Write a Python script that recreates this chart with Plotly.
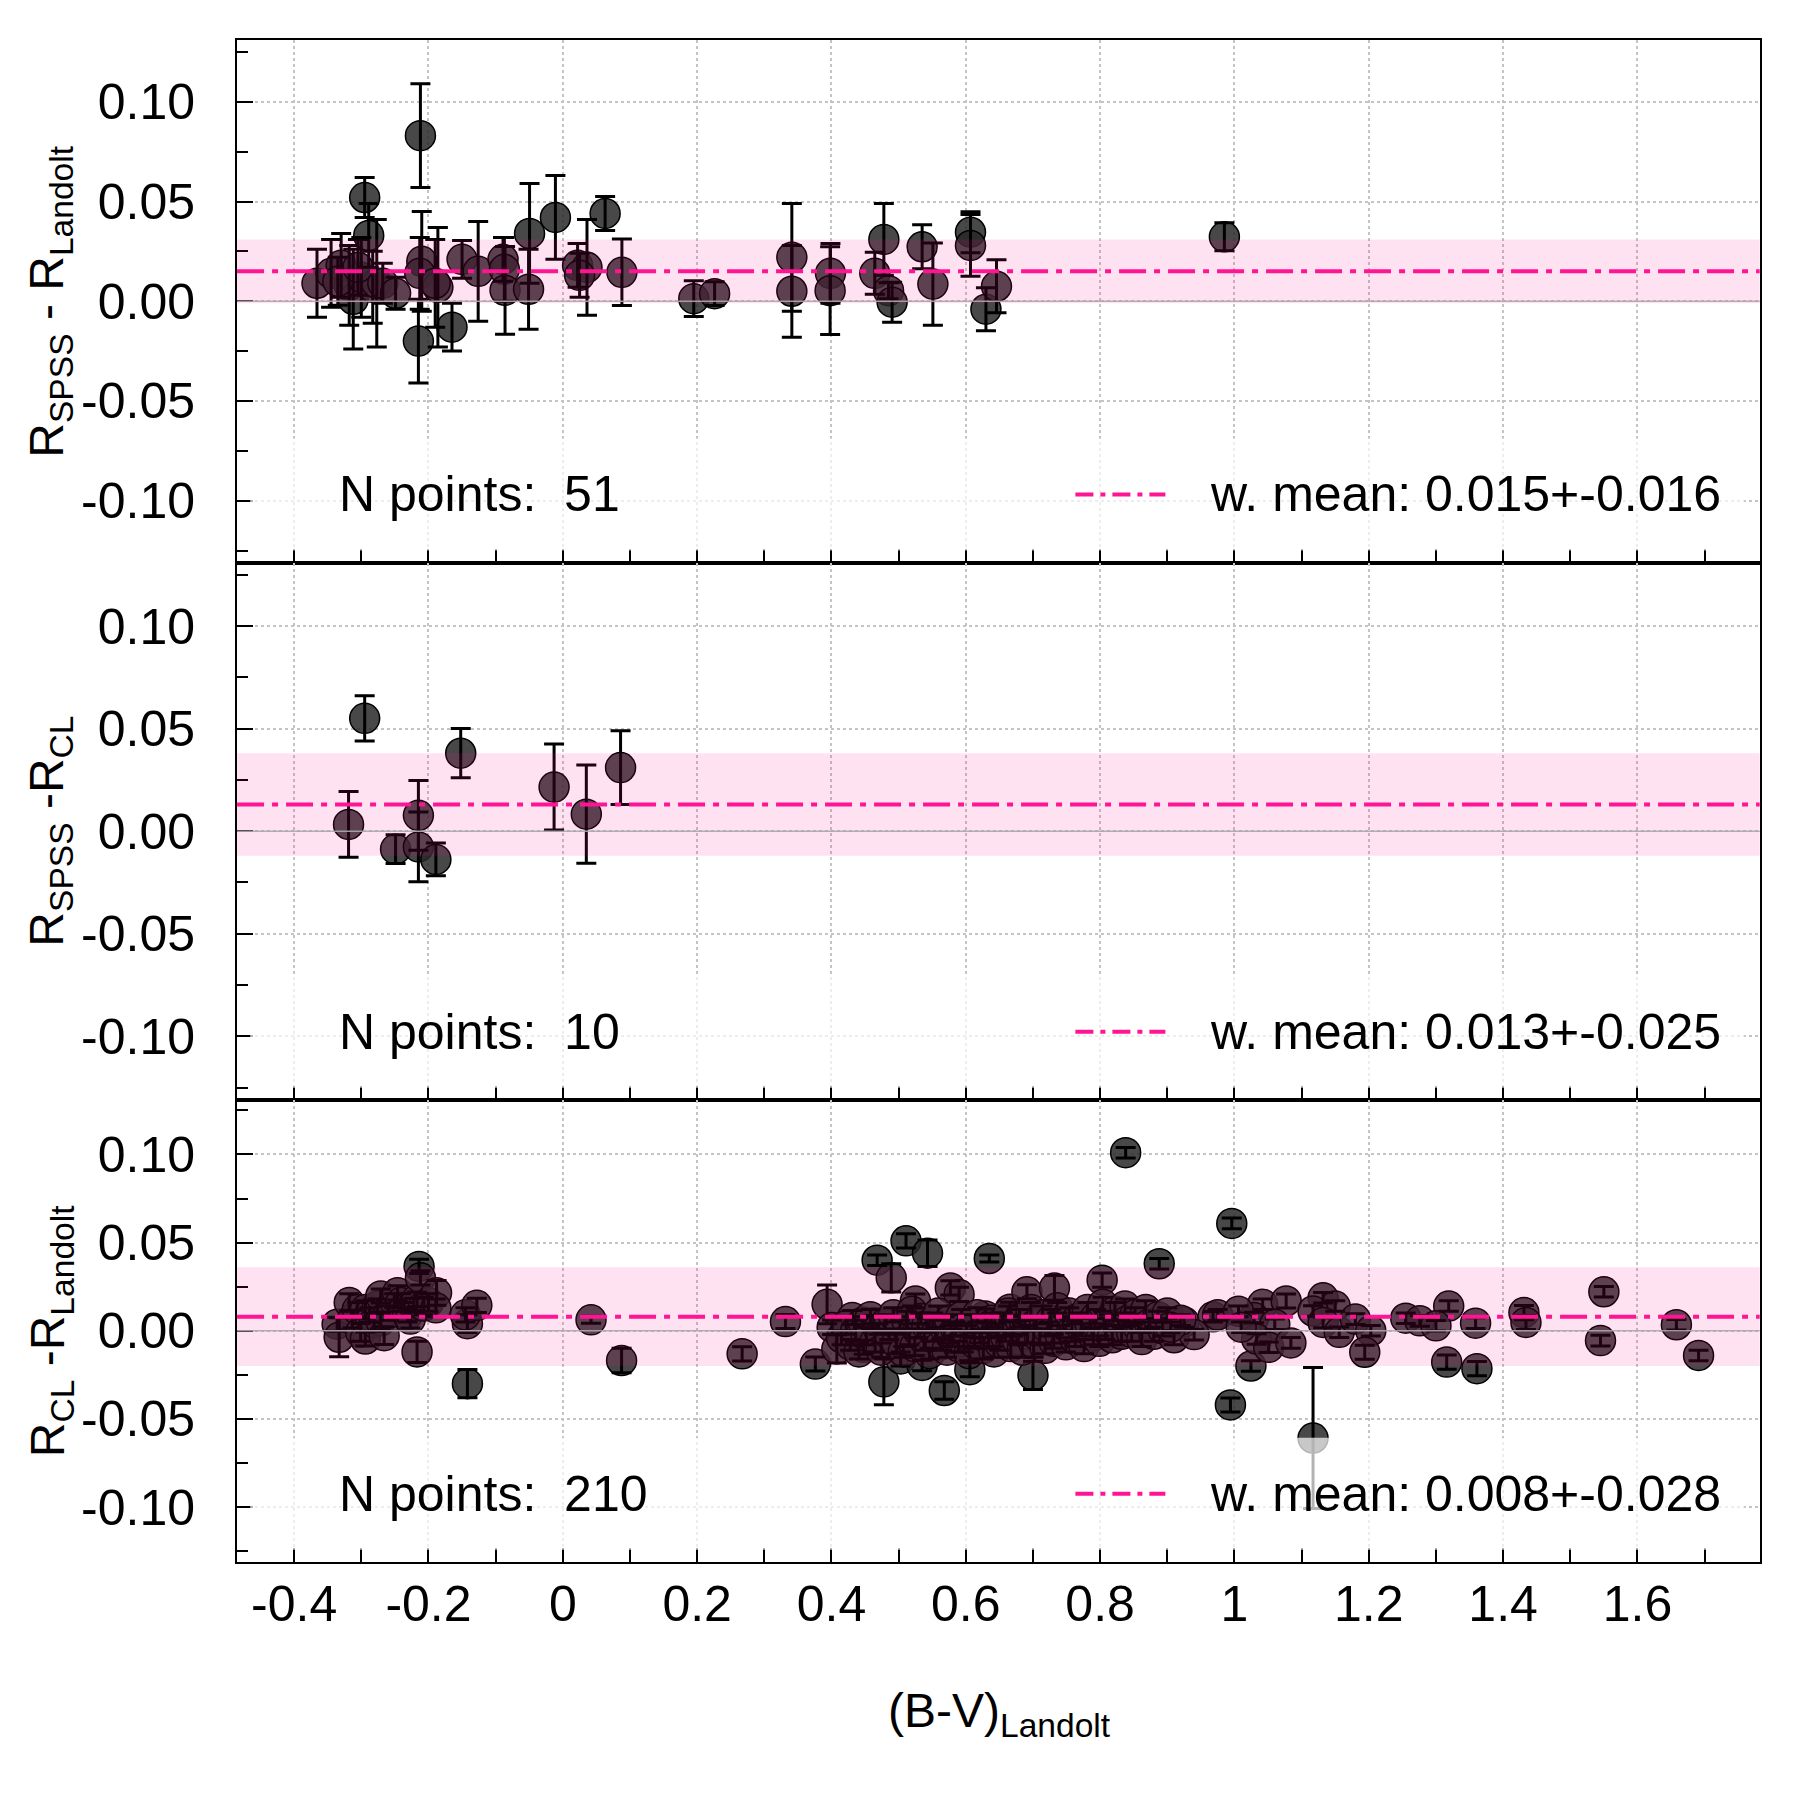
import plotly.graph_objects as go

# ---- data ----
# top panel: R_SPSS - R_Landolt
top_x = [-0.366, -0.345, -0.330, -0.318, -0.312, -0.295, -0.289, -0.300, -0.283, -0.277,
         -0.268, -0.249, -0.212, -0.210, -0.213, -0.215, -0.186, -0.190, -0.165, -0.150,
         -0.126, -0.089, -0.087, -0.086, -0.051, -0.0495, -0.011, 0.022, 0.036, 0.025,
         0.063, 0.088, 0.195, 0.226, 0.341, 0.341, 0.3985, 0.398, 0.4645, 0.478,
         0.485, 0.4903, 0.535, 0.551, 0.607, 0.607, 0.630, 0.6457, 0.985, -0.335,
         -0.305]
top_y = [0.009, 0.014, 0.018, 0.008, 0.001, 0.052, 0.033, 0.012, 0.007, 0.009,
         0.009, 0.004, 0.083, 0.020, 0.014, -0.020, 0.007, 0.009, -0.013, 0.021,
         0.015, 0.021, 0.016, 0.0055, 0.006, 0.034, 0.042, 0.018, 0.017, 0.013,
         0.044, 0.0145, 0.0013, 0.0038, 0.022, 0.005, 0.014, 0.0053, 0.014, 0.031,
         0.0053, -0.0005, 0.0273, 0.0086, 0.0346, 0.028, -0.004, 0.0075, 0.0323, 0.010,
         0.017]
top_err = [0.017, 0.017, 0.016, 0.020, 0.025, 0.010, 0.016, 0.020, 0.018, 0.032,
           0.010, 0.008, 0.026, 0.025, 0.018, 0.021, 0.030, 0.022, 0.012, 0.0095,
           0.025, 0.011, 0.016, 0.022, 0.020, 0.025, 0.021, 0.011, 0.024, 0.011,
           0.0085, 0.0167, 0.009, 0.006, 0.027, 0.023, 0.015, 0.022, 0.0105, 0.018,
           0.004, 0.010, 0.011, 0.0206, 0.0103, 0.0155, 0.0108, 0.0133, 0.007, 0.012,
           0.014]

# middle panel: R_SPSS - R_CL
mid_x = [-0.319, -0.295, -0.249, -0.215, -0.215, -0.189, -0.152, -0.013, 0.035, 0.086]
mid_y = [0.0033, 0.055, -0.0088, 0.0077, -0.0077, -0.0138, 0.038, 0.0215, 0.0083, 0.031]
mid_err = [0.016, 0.011, 0.007, 0.017, 0.017, 0.008, 0.012, 0.021, 0.024, 0.018]

# bottom panel: R_CL - R_Landolt
bot_x = [
    -0.336, -0.333, -0.318, -0.313, -0.306, -0.301, -0.294, -0.294, -0.288, -0.281,
    -0.276, -0.271, -0.271, -0.266, -0.259, -0.251, -0.246, -0.241, -0.236, -0.231,
    -0.227, -0.222, -0.217, -0.214, -0.212, -0.207, -0.217, -0.200, -0.188, -0.189,
    -0.142, -0.145, -0.128, -0.142,
    0.042, 0.0875, 0.267, 0.3315,
    0.376, 0.3935, 0.401, 0.408, 0.431, 0.448, 0.463, 0.468, 0.489, 0.478,
    0.511, 0.543, 0.525, 0.503, 0.535, 0.568, 0.577, 0.590, 0.606, 0.635,
    0.629, 0.666, 0.691, 0.700, 0.732, 0.803, 0.888, 0.838,
    0.415, 0.422, 0.428, 0.436, 0.441, 0.447, 0.452, 0.458, 0.465, 0.470,
    0.474, 0.480, 0.486, 0.492, 0.497, 0.502, 0.507, 0.512, 0.516, 0.520,
    0.524, 0.529, 0.533, 0.538, 0.542, 0.546, 0.551, 0.555, 0.559, 0.563,
    0.568, 0.572, 0.576, 0.580, 0.585, 0.589, 0.593, 0.597, 0.601, 0.605,
    0.609, 0.613, 0.617, 0.621, 0.626, 0.630, 0.634, 0.638, 0.642, 0.646,
    0.650, 0.655, 0.659, 0.663, 0.667, 0.671, 0.676, 0.680, 0.684, 0.688,
    0.692, 0.697, 0.701, 0.705, 0.710, 0.714, 0.718, 0.723, 0.727, 0.731,
    0.736, 0.740, 0.745, 0.749, 0.754, 0.758, 0.763, 0.767, 0.772, 0.776,
    0.781, 0.785, 0.790, 0.794, 0.799, 0.804, 0.808, 0.813, 0.818, 0.822,
    0.827, 0.832, 0.837, 0.842, 0.847, 0.852, 0.857, 0.862, 0.868, 0.874,
    0.880, 0.886, 0.893, 0.900, 0.910, 0.925,
    0.996, 0.994, 1.0245, 0.968, 1.042, 1.077, 1.029, 1.060, 1.033, 1.051,
    1.084, 1.132, 1.150, 1.117, 1.132, 1.156, 1.180, 1.203, 1.194, 1.255,
    1.276, 1.319, 1.300, 1.359, 1.316, 1.361, 1.431, 1.434, 1.550, 1.545,
    1.658, 1.691, 0.940, 0.920, 0.905, 0.975, 1.006, 1.010, 1.117,
]
bot_y = [
    0.0037, -0.0037, 0.016, 0.0066, 0.012, -0.0009, 0.012, -0.0047, 0.009, 0.0047,
    0.014, 0.0197, 0.0056, -0.0028, 0.010, 0.017, 0.0215, 0.016, 0.012, 0.009,
    0.0066, 0.0145, 0.0178, 0.0365, 0.030, 0.014, -0.012, 0.016, 0.0215, 0.013,
    0.004, 0.009, 0.0144, -0.030,
    0.0062, -0.0169, -0.0131, 0.0052,
    -0.0189, 0.015, 0.0019, -0.0103, 0.0075, -0.0094, 0.0047, 0.040, 0.030, -0.029,
    0.051, 0.044, 0.0169, -0.016, -0.0197, -0.0339, 0.0243, 0.0206, -0.0221, 0.041,
    0.0084, 0.0122, 0.0221, -0.0253, 0.0243, 0.0287, 0.038, 0.101,
    -0.004, 0.003, -0.008, 0.000, -0.012, 0.005, -0.003, 0.008, -0.006, 0.001,
    -0.011, 0.004, -0.002, 0.009, -0.007, 0.002, -0.012, 0.006, -0.004, 0.011,
    -0.009, 0.000, 0.007, -0.005, 0.003, -0.013, 0.005, -0.002, 0.010, -0.008,
    0.002, -0.011, 0.006, -0.004, 0.001, -0.009, 0.008, -0.006, 0.000, -0.013,
    0.004, -0.007, 0.009, -0.003, -0.010, 0.002, -0.005, 0.006, -0.012, 0.000,
    -0.007, 0.005, -0.003, 0.010, -0.009, 0.001, -0.005, 0.007, -0.011, 0.003,
    -0.002, 0.012, -0.007, 0.004, -0.004, 0.009, -0.010, 0.001, 0.006, -0.006,
    0.013, -0.002, 0.004, -0.008, 0.010, 0.000, -0.005, 0.007, 0.002, -0.009,
    0.012, 0.004, -0.003, 0.008, -0.006, 0.015, 0.001, 0.006, -0.004, 0.011,
    0.003, -0.002, 0.014, 0.006, -0.001, 0.009, 0.002, -0.005, 0.012, 0.004,
    -0.002, 0.008, 0.001, 0.010, -0.004, 0.005,
    0.0609, -0.0421, -0.020, 0.0079, 0.015, 0.0169, 0.0075, 0.0037, -0.0047, -0.0094,
    -0.0069, 0.0187, 0.014, 0.0112, 0.0047, -0.0009, 0.0066, 0.0, -0.0122, 0.0071,
    0.0056, 0.014, 0.0028, 0.0043, -0.0178, -0.0215, 0.0103, 0.0047, 0.0221, -0.0056,
    0.0034, -0.014, -0.0022, 0.006, 0.002, 0.009, 0.011, 0.002, -0.0609,
]
bot_err = [
    0.004, 0.011, 0.005, 0.005, 0.004, 0.005, 0.005, 0.004, 0.004, 0.005,
    0.004, 0.004, 0.005, 0.005, 0.004, 0.004, 0.004, 0.005, 0.004, 0.004,
    0.005, 0.004, 0.004, 0.004, 0.004, 0.005, 0.006, 0.005, 0.007, 0.005,
    0.005, 0.004, 0.004, 0.008,
    0.002, 0.007, 0.004, 0.004,
    0.004, 0.011, 0.004, 0.008, 0.004, 0.004, 0.004, 0.003, 0.008, 0.013,
    0.004, 0.0075, 0.004, 0.004, 0.003, 0.005, 0.004, 0.004, 0.004, 0.002,
    0.004, 0.004, 0.004, 0.008, 0.007, 0.004, 0.003, 0.003,
    0.004, 0.005, 0.003, 0.006, 0.004, 0.003, 0.005, 0.004, 0.006, 0.003,
    0.004, 0.005, 0.003, 0.004, 0.006, 0.004, 0.003, 0.005, 0.004, 0.003,
    0.005, 0.004, 0.003, 0.006, 0.004, 0.003, 0.005, 0.004, 0.004, 0.003,
    0.006, 0.004, 0.003, 0.005, 0.004, 0.003, 0.004, 0.006, 0.003, 0.004,
    0.005, 0.003, 0.004, 0.004, 0.006, 0.003, 0.005, 0.004, 0.003, 0.004,
    0.004, 0.005, 0.003, 0.004, 0.006, 0.004, 0.003, 0.005, 0.004, 0.003,
    0.005, 0.004, 0.008, 0.003, 0.004, 0.005, 0.003, 0.004, 0.006, 0.004,
    0.003, 0.005, 0.004, 0.004, 0.003, 0.006, 0.004, 0.003, 0.005, 0.004,
    0.004, 0.003, 0.005, 0.004, 0.003, 0.004, 0.006, 0.003, 0.004, 0.005,
    0.003, 0.004, 0.004, 0.003, 0.005, 0.004, 0.003, 0.004, 0.005, 0.003,
    0.004, 0.003, 0.004, 0.003, 0.004, 0.003,
    0.003, 0.004, 0.003, 0.003, 0.003, 0.004, 0.003, 0.003, 0.003, 0.003,
    0.003, 0.003, 0.003, 0.003, 0.003, 0.003, 0.003, 0.003, 0.004, 0.003,
    0.003, 0.003, 0.003, 0.003, 0.004, 0.004, 0.004, 0.004, 0.003, 0.003,
    0.003, 0.003, 0.003, 0.003, 0.003, 0.003, 0.003, 0.003, 0.040,
]

means = [0.015, 0.013, 0.008]
sigmas = [0.016, 0.025, 0.028]
npoints = ["51", "10", "210"]
ytitles = ["R<sub>SPSS</sub> - R<sub>Landolt</sub>",
           "R<sub>SPSS</sub> -R<sub>CL</sub>",
           "R<sub>CL</sub> -R<sub>Landolt</sub>"]
xtick_vals = [-0.4, -0.2, 0, 0.2, 0.4, 0.6, 0.8, 1.0, 1.2, 1.4, 1.6]
xtick_text = ["-0.4", "-0.2", "0", "0.2", "0.4", "0.6", "0.8", "1", "1.2", "1.4", "1.6"]
ytick_vals = [-0.10, -0.05, 0.0, 0.05, 0.10]
ytick_text = ["-0.10", "-0.05", "0.00", "0.05", "0.10"]
yminor_vals = [-0.125, -0.075, -0.025, 0.025, 0.075, 0.125]
xminor_vals = [-0.3, -0.1, 0.1, 0.3, 0.5, 0.7, 0.9, 1.1, 1.3, 1.5, 1.7]

FONT = "Liberation Sans"
PINK = "#ff1493"
# page body adds an 8px margin, compensate for it
DX = 8 / 1800
DY = 8 / 1800
# panel domains [bottom, top] in paper units (top, middle, bottom panel)
domains = [[0.6875 + DY, 0.9778 + DY], [0.389 + DY, 0.6875 + DY], [0.1324 + DY, 0.389 + DY]]

panels = [(top_x, top_y, top_err), (mid_x, mid_y, mid_err), (bot_x, bot_y, bot_err)]

fig = go.Figure()
for i, (xs, ys, es) in enumerate(panels):
    ax = "" if i == 0 else str(i + 1)
    fig.add_trace(go.Scatter(
        x=xs, y=ys, mode="markers", xaxis="x" + ax, yaxis="y" + ax,
        marker=dict(size=30, color="rgba(40,40,40,0.85)",
                    line=dict(color="black", width=1.5)),
        showlegend=False, hoverinfo="skip"))
    # error bars drawn over the circles
    fig.add_trace(go.Scatter(
        x=xs, y=ys, mode="markers", xaxis="x" + ax, yaxis="y" + ax,
        marker=dict(size=1, color="rgba(0,0,0,0)"),
        error_y=dict(type="data", array=es, color="black", thickness=3, width=10),
        showlegend=False, hoverinfo="skip"))

shapes = []
annotations = []
for i in range(3):
    ax = "" if i == 0 else str(i + 1)
    xr, yr = "x" + ax, "y" + ax
    lo, hi = domains[i]
    m, s = means[i], sigmas[i]
    shapes.append(dict(type="rect", xref=xr + " domain", yref=yr, x0=0, x1=1,
                       y0=m - s, y1=m + s, fillcolor="rgba(255,20,147,0.12)",
                       line=dict(width=0), layer="above"))
    shapes.append(dict(type="line", xref=xr + " domain", yref=yr, x0=0, x1=1,
                       y0=0, y1=0, line=dict(color="rgba(170,170,170,0.9)", width=1.5),
                       layer="above"))
    shapes.append(dict(type="line", xref=xr + " domain", yref=yr, x0=0, x1=1,
                       y0=m, y1=m, line=dict(color=PINK, width=4,
                                             dash="27px,8px,6px,8px"),
                       layer="above"))
    # semi-opaque key box
    shapes.append(dict(type="rect", xref="paper", yref="paper", x0=0.139 - DX, x1=0.969 - DX,
                       y0=lo + 12 / 1800, y1=lo + 124 / 1800,
                       fillcolor="rgba(255,255,255,0.7)", line=dict(width=0),
                       layer="above"))
    ky = lo + 68 / 1800
    shapes.append(dict(type="line", xref="paper", yref="paper", x0=0.593, x1=0.643,
                       y0=ky, y1=ky, line=dict(color=PINK, width=4,
                                               dash="18px,7px,5px,7px"),
                       layer="above"))
    annotations.append(dict(xref="paper", yref="paper", x=0.183, y=ky,
                            xanchor="left", yanchor="middle", showarrow=False,
                            text="N points:\u00a0\u00a0" + npoints[i],
                            font=dict(family=FONT, size=50, color="black")))
    annotations.append(dict(xref="paper", yref="paper", x=0.6669, y=ky,
                            xanchor="left", yanchor="middle", showarrow=False,
                            text="w. mean: %.3f+-%.3f" % (m, s),
                            font=dict(family=FONT, size=50, color="black")))
    annotations.append(dict(xref="paper", yref="paper", x=0.0236, y=(lo + hi) / 2,
                            xanchor="center", yanchor="middle", showarrow=False,
                            textangle=-90, text=ytitles[i],
                            font=dict(family=FONT, size=48, color="black")))

annotations.append(dict(xref="paper", yref="paper", x=0.555 - DX, y=0.052,
                        xanchor="center", yanchor="middle", showarrow=False,
                        text="(B-V)<sub>Landolt</sub>",
                        font=dict(family=FONT, size=48, color="black")))

layout = dict(
    width=1800, height=1800, margin=dict(l=0, r=0, t=0, b=0),
    paper_bgcolor="white", plot_bgcolor="white",
    font=dict(family=FONT, size=50, color="black"),
    shapes=shapes, annotations=annotations, showlegend=False,
)
for i in range(3):
    ax = "" if i == 0 else str(i + 1)
    layout["xaxis" + ax] = dict(
        domain=[0.1317 - DX, 0.9776 - DX], range=[-0.485, 1.782], anchor="y" + ax,
        showline=True, mirror=True, linecolor="black", linewidth=2,
        ticks="inside", ticklen=14, tickwidth=2, tickcolor="black",
        tickmode="array", tickvals=xtick_vals, ticktext=xtick_text,
        showticklabels=(i == 2), ticklabelstandoff=-3,
        showgrid=True, gridcolor="#c4c4c4", griddash="dot", gridwidth=1.5,
        zeroline=False,
        minor=dict(tickmode="array", tickvals=xminor_vals, ticks="inside",
                   ticklen=14, tickwidth=2, tickcolor="black", showgrid=False),
    )
    layout["yaxis" + ax] = dict(
        domain=domains[i], range=[-0.131, 0.131], anchor="x" + ax,
        showline=True, mirror=True, linecolor="black", linewidth=2,
        ticks="inside", ticklen=16, tickwidth=2, tickcolor="black",
        tickmode="array", tickvals=ytick_vals, ticktext=ytick_text,
        ticklabelstandoff=30,
        showgrid=True, gridcolor="#c4c4c4", griddash="dot", gridwidth=1.5,
        zeroline=False,
        minor=dict(tickmode="array", tickvals=yminor_vals, ticks="inside",
                   ticklen=11, tickwidth=2, tickcolor="black", showgrid=False),
    )
fig.update_layout(**layout)
fig.write_html("out.html")
